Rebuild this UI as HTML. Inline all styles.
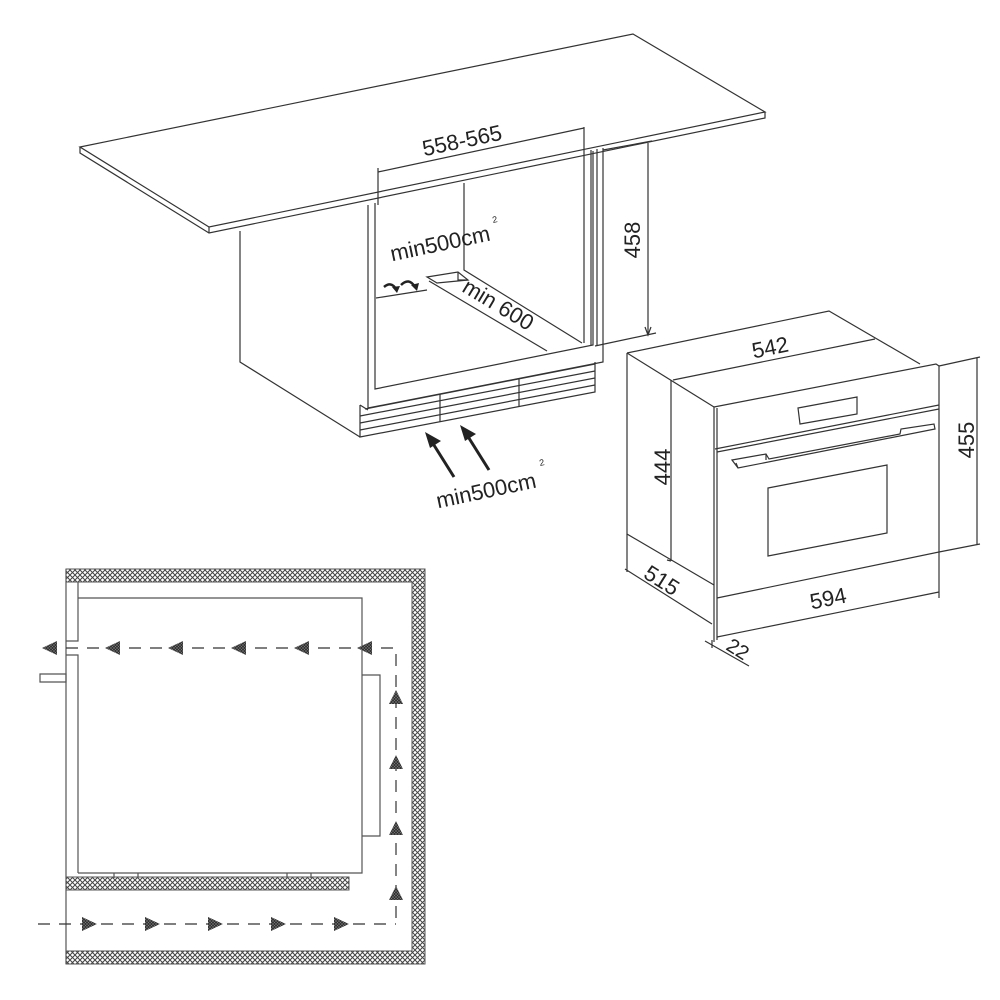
<!DOCTYPE html>
<html><head><meta charset="utf-8"><style>
html,body{margin:0;padding:0;background:#fff}
svg{display:block}
text{font-family:"Liberation Sans",sans-serif;fill:#222}
</style></head><body>
<svg width="1000" height="1000" viewBox="0 0 1000 1000" xmlns="http://www.w3.org/2000/svg">
<defs>
<pattern id="h" width="5" height="5" patternUnits="userSpaceOnUse">
<rect width="5" height="5" fill="#fff"/>
<path d="M0,0L5,5M5,0L0,5" stroke="#444" stroke-width="1"/>
</pattern>
<pattern id="d" width="3" height="3" patternUnits="userSpaceOnUse">
<rect width="3" height="3" fill="#333"/>
<path d="M0,0L3,3M3,0L0,3" stroke="#777" stroke-width="0.5"/>
</pattern>
</defs>
<g fill="none" stroke="#333" stroke-width="1.2">
<path d="M80,147 L633,34 L765,112 L209,227 Z"/>
<path d="M80,147 L80,153 L209,233 L765,118 L765,112 M209,227 L209,233"/>
<path d="M240,231 L240,362 L360,437"/>
<path d="M368,205 L368,408 L603,362 L603,148"/>
<path d="M375,203 L375,389 L593,345 L593,151"/>
<path d="M584,127 L584,343 M591,150 L591,345 M597,149 L597,346"/>
<path d="M464,183 L464,270 L582,343"/>
<path d="M376,298 L427,290"/>
<path d="M427,277 L458,272 L468,280 L437,283 Z"/>
<path d="M458,272 L458,280 L468,280"/>
<path d="M429,281 L547,351"/>
<path d="M378,168 L378,205"/>
<path d="M378,172 L584,128"/>
<path d="M603,150 L652,141 M648,143 L648,335 M595,346 L656,333"/>
<path d="M645,327 L648,335 L651,327"/>
<path d="M360,405 L360,437 L595,392 L595,362"/>
<path d="M365,409 L595,364 M360,416 L595,371 M360,423 L595,378 M360,430 L595,385"/>
<path d="M440,394 L440,422 M519,379 L519,407"/>
<path d="M360,405 L368,410"/>
</g>
<g fill="#222" stroke="#222" stroke-width="3">
<path d="M454,477 L432,442"/>
<path d="M489,470 L467,435"/>
</g>
<path d="M425,432 L441,441 L430,448 Z" fill="#222"/>
<path d="M460,425 L476,434 L465,441 Z" fill="#222"/>
<g fill="none" stroke="#222" stroke-width="2.5">
<path d="M384,287 Q391,281 396,289"/>
<path d="M401,285 Q409,277 415,287"/>
</g>
<path d="M392,287 L400,286 L397,293 Z" fill="#222"/>
<path d="M411,285 L419,283 L417,291 Z" fill="#222"/>

<text x="462" y="148" font-size="22" text-anchor="middle" transform="rotate(-12 462 140)">558-565</text>
<text x="440" y="251" font-size="22" text-anchor="middle" transform="rotate(-12 440 243)">min500cm</text>
<text x="493" y="223" font-size="9" transform="rotate(-12 493 223)">2</text>
<text x="498" y="312" font-size="22" text-anchor="middle" transform="rotate(31 498 305)">min 600</text>
<text x="640" y="240" font-size="22" text-anchor="middle" transform="rotate(-90 640 240)">458</text>
<text x="486" y="498" font-size="22" text-anchor="middle" transform="rotate(-12 486 490)">min500cm</text>
<text x="540" y="466" font-size="9" transform="rotate(-12 540 466)">2</text>

<g fill="none" stroke="#333" stroke-width="1.2">
<path d="M627,353 L829,311 L920,364"/>
<path d="M627,353 L714,407"/>
<path d="M627,353 L627,534 L714,585"/>
<path d="M671,380 L671,561 M667,560 L671,561"/>
<path d="M673,380 L875,339"/>
<path d="M714,407 L714,642 M717,408 L717,640"/>
<path d="M714,407 L936,364 L939,366 L939,552 L717,598"/>
<path d="M715,449 L939,405 M717,452 L939,409"/>
<path d="M798,408 L857,397 L857,414 L800,424 Z"/>
<path d="M732,460 L766,454 L769,459 L900,434 L901,429 L934,424 L935,429 L738,468 Z"/>
<path d="M738,468 L736,463 M766,454 L766,460"/>
<path d="M768,488 L887,465 L887,533 L768,556 Z"/>
<path d="M939,366 L980,357 M939,552 L980,544 M977,358 L977,544"/>
<path d="M717,637 L939,592"/>
<path d="M939,552 L939,598"/>
<path d="M625,569 L712,624 M627,534 L627,572"/>
<path d="M705,641 L749,666 M712,640 L712,648"/>
</g>
<text x="770" y="355" font-size="22" text-anchor="middle" transform="rotate(-11.5 770 347)">542</text>
<text x="662" y="475" font-size="22" text-anchor="middle" transform="rotate(-90 662 467)">444</text>
<text x="966" y="448" font-size="22" text-anchor="middle" transform="rotate(-90 966 440)">455</text>
<text x="828" y="606" font-size="22" text-anchor="middle" transform="rotate(-11.5 828 598)">594</text>
<text x="662" y="588" font-size="22" text-anchor="middle" transform="rotate(32 662 580)">515</text>
<text x="738" y="656" font-size="20" text-anchor="middle" transform="rotate(32 738 649)">22</text>

<g stroke="#555" stroke-width="1">
<path d="M66,569 H425 V964 H66 V951 H412 V582 H66 Z" fill="url(#h)"/>
<rect x="66" y="877" width="283" height="13" fill="url(#h)"/>
</g>
<g fill="none" stroke="#555" stroke-width="1.2">
<path d="M66,569 V964"/>
<path d="M78,582 V641 H66 M66,655 H78 V873"/>
<path d="M78,598 H362 V873 H78"/>
<path d="M114,873 V878 M138,873 V878 M287,873 V878 M311,873 V878"/>
<path d="M362,675 H380 V836 H362"/>
<path d="M40,674 H66 V682 H40 Z"/>
</g>
<g fill="none" stroke="#333" stroke-width="1.2" stroke-dasharray="12,9">
<path d="M66,648 H396 V922"/>
<path d="M38,924 H396"/>
</g>
<g fill="url(#d)">
<path d="M42,648 L57,641 L57,655 Z"/>
<path d="M105,648 L120,641 L120,655 Z"/>
<path d="M168,648 L183,641 L183,655 Z"/>
<path d="M231,648 L246,641 L246,655 Z"/>
<path d="M294,648 L309,641 L309,655 Z"/>
<path d="M357,648 L372,641 L372,655 Z"/>
<path d="M396,690 L389,704 L403,704 Z"/>
<path d="M396,755 L389,769 L403,769 Z"/>
<path d="M396,821 L389,835 L403,835 Z"/>
<path d="M396,886 L389,900 L403,900 Z"/>
<path d="M97,924 L82,917 L82,931 Z"/>
<path d="M160,924 L145,917 L145,931 Z"/>
<path d="M223,924 L208,917 L208,931 Z"/>
<path d="M286,924 L271,917 L271,931 Z"/>
<path d="M349,924 L334,917 L334,931 Z"/>
</g>
</svg>
</body></html>
